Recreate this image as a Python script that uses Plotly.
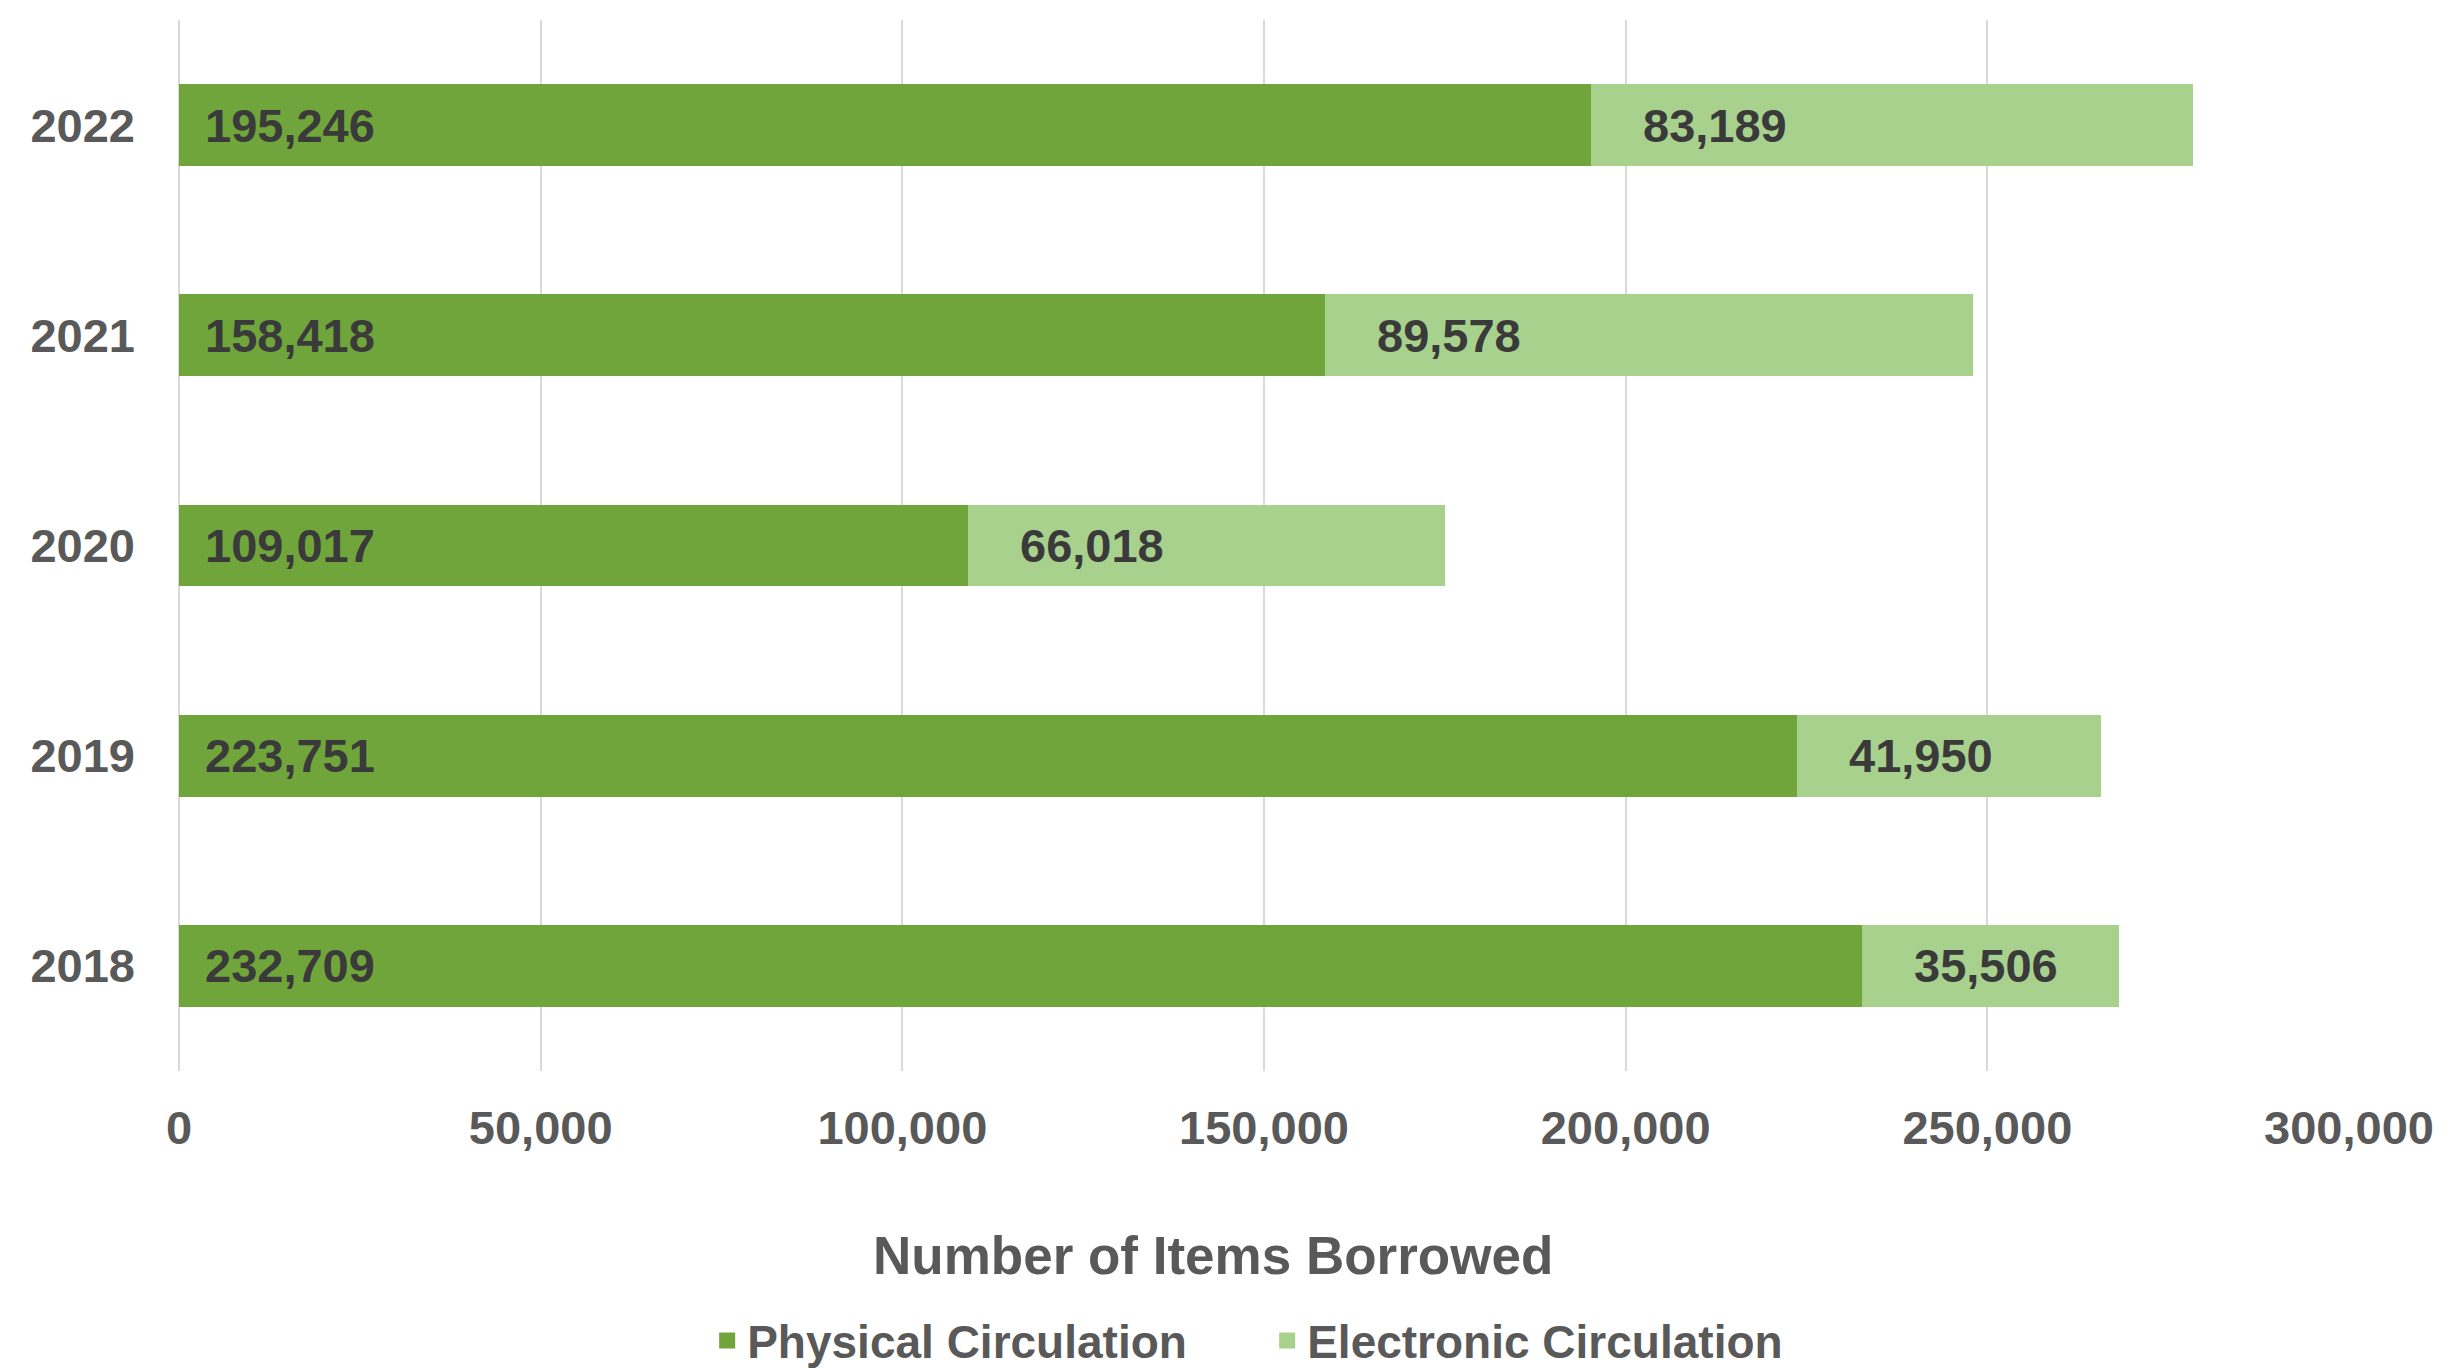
import plotly.graph_objects as go

years = ["2018", "2019", "2020", "2021", "2022"]
physical = [232709, 223751, 109017, 158418, 195246]
electronic = [35506, 41950, 66018, 89578, 83189]
x_ticks = [0, 50000, 100000, 150000, 200000, 250000, 300000]
x_tick_labels = ["0", "50,000", "100,000", "150,000", "200,000", "250,000", "300,000"]

DARK = "#70A53B"
LIGHT = "#A9D18E"
LABEL = "#3A3A3A"
TICK = "#595959"
FONT = "Arial, Liberation Sans, sans-serif"

fig = go.Figure()
fig.add_trace(go.Bar(y=years, x=physical, orientation="h", name="Physical Circulation",
                     marker=dict(color=DARK, line=dict(width=0)), hoverinfo="skip",
                     showlegend=False))
fig.add_trace(go.Bar(y=years, x=electronic, orientation="h", name="Electronic Circulation",
                     marker=dict(color=LIGHT, line=dict(width=0)), hoverinfo="skip",
                     showlegend=False))
# legend entries with square swatches
for nm, col in [("Physical Circulation", DARK), ("Electronic Circulation", LIGHT)]:
    fig.add_trace(go.Scatter(x=[None], y=[None], mode="markers", name=nm,
                             marker=dict(symbol="square", size=22, color=col),
                             showlegend=True, hoverinfo="skip"))

annotations = []
for i, (p, e) in enumerate(zip(physical, electronic)):
    annotations.append(dict(x=0, y=i, xref="x", yref="y", text=f"{p:,}", showarrow=False,
                            xanchor="left", yanchor="middle", xshift=24,
                            font=dict(family=FONT, size=47, color=LABEL, weight="bold")))
    annotations.append(dict(x=p, y=i, xref="x", yref="y", text=f"{e:,}", showarrow=False,
                            xanchor="left", yanchor="middle", xshift=50,
                            font=dict(family=FONT, size=47, color=LABEL, weight="bold")))

annotations.append(dict(x=0.4765, y=-0.1755, xref="paper", yref="paper",
                        text="Number of Items Borrowed", showarrow=False,
                        xanchor="center", yanchor="middle",
                        font=dict(family=FONT, size=53, color=TICK, weight="bold")))

fig.update_layout(
    width=2451, height=1369,
    barmode="stack", bargap=0.61,
    plot_bgcolor="white", paper_bgcolor="white",
    margin=dict(l=171, r=110, t=12, b=306),
    font=dict(family=FONT, color=TICK),
    annotations=annotations,
    showlegend=True,
    legend=dict(orientation="h", x=0.2434, xanchor="left", yref="container", y=0.0,
                yanchor="bottom", font=dict(family=FONT, size=46, color=TICK, weight="bold"),
                itemsizing="trace", itemwidth=30, entrywidth=515, entrywidthmode="pixels",
                traceorder="normal", bgcolor="rgba(0,0,0,0)"),
    xaxis=dict(range=[0, 300000], tickvals=x_ticks, ticktext=x_tick_labels,
               showgrid=True, gridcolor="#D9D9D9", gridwidth=2,
               zeroline=True, zerolinecolor="#D9D9D9", zerolinewidth=2,
               showline=False, ticks="", ticklabelstandoff=25,
               tickfont=dict(family=FONT, size=47, color=TICK, weight="bold")),
    yaxis=dict(type="category", categoryorder="array", categoryarray=years,
               range=[-0.5, 4.5],
               showgrid=False, zeroline=False, showline=False, ticks="",
               ticklabelstandoff=43,
               tickfont=dict(family=FONT, size=47, color=TICK, weight="bold")),
)

fig.write_html("out.html")
